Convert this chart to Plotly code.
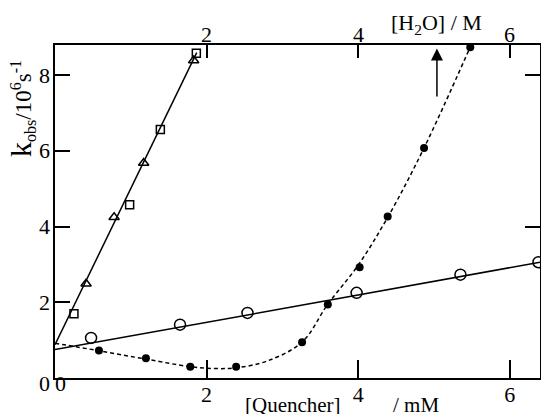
import plotly.graph_objects as go

# ---- data ----
sq_q = [0.25, 0.985, 1.39, 1.865]
sq_k = [1.70, 4.58, 6.57, 8.58]
tri_q = [0.41, 0.78, 1.17, 1.83]
tri_k = [2.49, 4.25, 5.68, 8.39]
oc_q = [0.476, 1.65, 2.54, 3.98, 5.35, 6.38]
oc_k = [1.06, 1.41, 1.72, 2.25, 2.73, 3.06]
fc_q = [0.58, 1.20, 1.785, 2.39, 3.26, 3.60, 4.02, 4.39, 4.87, 5.48]
fc_k = [0.73, 0.52, 0.30, 0.30, 0.945, 1.94, 2.93, 4.27, 6.08, 8.74]

# fitted lines / curve
steep_fit_q = [0.0, 1.87]
steep_fit_k = [0.88, 8.60]
oc_fit_q = [0.0, 6.4]
oc_fit_k = [0.75, 3.06]
curve_q = [0.0, 0.58, 1.2, 1.78, 2.1, 2.39, 2.8, 3.26, 3.6, 4.0, 4.4, 4.87, 5.48]
curve_k = [0.92, 0.72, 0.5, 0.3, 0.25, 0.27, 0.45, 0.95, 1.95, 2.98, 4.28, 6.08, 8.75]

bottom_ticks = [2, 4, 6]
top_ticks = [2, 4, 6]          # [H2O] / M
left_ticks = [2, 4, 6, 8]
right_ticks = [4, 8]
arrow_q = 5.04
arrow_k = [7.40, 8.71]

FONT = "Liberation Serif"
ML, MR, MT, MB = 55, 1, 45, 36
W, H = 541, 414
fig = go.Figure()

fig.add_trace(go.Scatter(x=steep_fit_q, y=steep_fit_k, mode="lines",
                         line=dict(color="black", width=1.5), showlegend=False))
fig.add_trace(go.Scatter(x=oc_fit_q, y=oc_fit_k, mode="lines",
                         line=dict(color="black", width=1.5), showlegend=False))
fig.add_trace(go.Scatter(x=curve_q, y=curve_k, mode="lines",
                         line=dict(color="black", width=1.5, dash="4px,3px",
                                   shape="spline", smoothing=1.0),
                         showlegend=False))
fig.add_trace(go.Scatter(x=sq_q, y=sq_k, mode="markers", cliponaxis=False,
                         marker=dict(symbol="square-open", size=8, color="black",
                                     line=dict(width=1.5)), showlegend=False))
fig.add_trace(go.Scatter(x=tri_q, y=tri_k, mode="markers", cliponaxis=False,
                         marker=dict(symbol="triangle-up-open", size=9, color="black",
                                     line=dict(width=1.5)), showlegend=False))
fig.add_trace(go.Scatter(x=oc_q, y=oc_k, mode="markers", cliponaxis=False,
                         marker=dict(symbol="circle-open", size=11, color="black",
                                     line=dict(width=1.5)), showlegend=False))
fig.add_trace(go.Scatter(x=fc_q, y=fc_k, mode="markers", cliponaxis=False,
                         marker=dict(symbol="circle", size=8, color="black"),
                         showlegend=False))
# invisible trace to activate top/right axes
fig.add_trace(go.Scatter(x=[None], y=[None], xaxis="x2", yaxis="y2",
                         mode="markers", showlegend=False, hoverinfo="skip"))

tickfont = dict(family=FONT, size=22, color="black")
common = dict(showgrid=False, zeroline=False, automargin=False,
              tickwidth=1.5, tickcolor="black", ticks="inside")
fig.update_layout(
    width=W, height=H,
    margin=dict(l=ML, r=MR, t=MT, b=MB),
    paper_bgcolor="white", plot_bgcolor="white",
    xaxis=dict(range=[0, 6.4], tickvals=bottom_ticks, ticklen=18,
               showline=True, linecolor="black", linewidth=1.5, mirror=True,
               tickfont=tickfont, ticklabelstandoff=-4, **common),
    yaxis=dict(range=[0, 8.8], tickvals=left_ticks, ticklen=15,
               showline=True, linecolor="black", linewidth=1.5, mirror=True,
               showticklabels=False, **common),
    xaxis2=dict(range=[0, 6.4], overlaying="x", side="top", tickvals=top_ticks,
                ticklen=13, showline=False, showticklabels=False, **common),
    yaxis2=dict(range=[0, 8.8], overlaying="y", side="right", tickvals=right_ticks,
                ticklen=15, showline=False, showticklabels=False, **common),
)

pw, ph = W - ML - MR, H - MT - MB


def px(xp, yp):
    return (xp - ML) / pw, 1 - (yp - MT) / ph


# top-axis tick labels
for t in top_ticks:
    fig.add_annotation(x=t, y=1, xref="x2", yref="paper", text=str(t), showarrow=False,
                       font=tickfont, xanchor="center", yanchor="middle", yshift=11)
# left-axis tick labels
for t in [0] + left_ticks:
    fig.add_annotation(x=0, y=t, xref="paper", yref="y", text=str(t), showarrow=False,
                       font=tickfont, xanchor="right", yanchor="middle", xshift=-3,
                       yshift=(-5 if t == 0 else 0))
# bottom-left "0"
fig.add_annotation(x=0.0, y=0.0, xref="x", yref="y", text="0", showarrow=False,
                   font=tickfont, xanchor="center", yanchor="middle", xshift=5, yshift=-5)

for txt, xp, yp, fs in [("[Quencher]", 293, 405, 21), ("/ mM", 416, 405, 21),
                        ("[H<sub>2</sub>O]&nbsp;/&nbsp;M", 436, 24, 22)]:
    ax_, ay_ = px(xp, yp)
    fig.add_annotation(x=ax_, y=ay_, xref="paper", yref="paper", text=txt,
                       showarrow=False, font=dict(family=FONT, size=fs, color="black"),
                       xanchor="center", yanchor="middle")
ax_, ay_ = px(21, 109)
fig.add_annotation(x=ax_, y=ay_, xref="paper", yref="paper",
                   text='<span style="font-size:30px">k</span><sub>obs</sub>/10<sup>6</sup>s<sup>-1</sup>',
                   showarrow=False, textangle=-90, xanchor="center", yanchor="middle",
                   font=dict(family=FONT, size=23, color="black"))
fig.add_annotation(x=arrow_q, y=arrow_k[1], ax=arrow_q, ay=arrow_k[0],
                   xref="x", yref="y", axref="x", ayref="y", text="",
                   showarrow=True, arrowhead=2, arrowsize=1.6, arrowwidth=1.5,
                   arrowcolor="black", standoff=0)

fig.write_html("out.html", config={"displayModeBar": False},
               post_script="document.body.style.margin='0';")
